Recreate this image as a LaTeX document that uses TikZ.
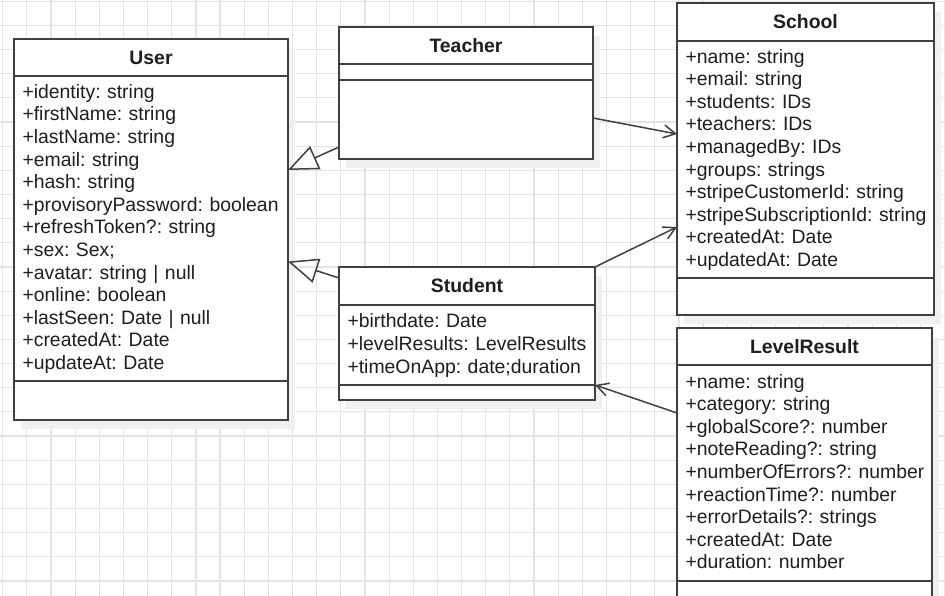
\documentclass[tikz,border=0pt]{standalone}
\usepackage{fontspec}
\setmainfont{Liberation Sans}
\usepackage{xcolor}
\usepackage{tikz}
\usetikzlibrary{arrows.meta,positioning,backgrounds}
\definecolor{umlline}{RGB}{64,64,64}
\definecolor{umltext}{RGB}{30,30,30}
\definecolor{gridgray}{RGB}{228,228,228}
\definecolor{shadowgray}{RGB}{240,240,240}
\frenchspacing
\newcommand{\attr}[1]{\mbox{\rule[-5.9pt]{0pt}{22.6pt}#1}}

\begin{document}
\begin{tikzpicture}[
  x=1pt,y=-1pt,
  every node/.style={font=\fontsize{19.4pt}{22.6pt}\selectfont,text=umltext},
  classhead/.style={draw=umlline,fill=white,line width=1.5pt,outer sep=0pt,
                    inner sep=0pt,anchor=north west,font=\fontsize{19.4pt}{22.6pt}\selectfont\bfseries},
  classpart/.style={draw=umlline,fill=white,line width=1.5pt,outer sep=0pt,
                    inner xsep=8.5pt,inner ysep=0pt,align=left},
  inherit/.style={-{Triangle[open,length=30pt,width=25pt]},line width=1.5pt,umlline},
  assoc/.style={-{Straight Barb[length=12pt,width=13pt]},line width=1.5pt,umlline}]
\useasboundingbox (0,0) rectangle (945,596);
%--- User ---
\node[classhead,minimum width=274pt,minimum height=37pt] (userhead) at (14,39) {User};
\node[classpart,text width=257pt,minimum height=305pt,below=0pt of userhead] (userattr)
  {\attr{+identity: string}\\\attr{+firstName: string}\\\attr{+lastName: string}\\
   \attr{+email: string}\\\attr{+hash: string}\\\attr{+provisoryPassword: boolean}\\
   \attr{+refreshToken?: string}\\\attr{+sex: Sex;}\\\attr{+avatar: string | null}\\
   \attr{+online: boolean}\\\attr{+lastSeen: Date | null}\\\attr{+createdAt: Date}\\
   \attr{+updateAt: Date}};
\node[classpart,text width=257pt,minimum height=39pt,below=0pt of userattr] (userops) {};
%--- Teacher ---
\node[classhead,minimum width=254pt,minimum height=37pt] (teacherhead) at (339,27) {Teacher};
\node[classpart,text width=237pt,minimum height=16pt,below=0pt of teacherhead] (teacherattr) {};
\node[classpart,text width=237pt,minimum height=79pt,below=0pt of teacherattr] (teacherops) {};
%--- Student ---
\node[classhead,minimum width=256pt,minimum height=38pt] (studenthead) at (339,267) {Student};
\node[classpart,text width=239pt,minimum height=80pt,below=0pt of studenthead] (studentattr)
  {\attr{+birthdate: Date}\\\attr{+levelResults: LevelResults}\\\attr{+timeOnApp: date;duration}};
\node[classpart,text width=239pt,minimum height=15pt,below=0pt of studentattr] (studentops) {};
%--- School ---
\node[classhead,minimum width=257pt,minimum height=38pt] (schoolhead) at (677,3) {School};
\node[classpart,text width=240pt,minimum height=237pt,below=0pt of schoolhead] (schoolattr)
  {\attr{+name: string}\\\attr{+email: string}\\\attr{+students: IDs}\\\attr{+teachers: IDs}\\
   \attr{+managedBy: IDs}\\\attr{+groups: strings}\\\attr{+stripeCustomerId: string}\\
   \attr{+stripeSubscriptionId: string}\\\attr{+createdAt: Date}\\\attr{+updatedAt: Date}};
\node[classpart,text width=240pt,minimum height=37pt,below=0pt of schoolattr] (schoolops) {};
%--- LevelResult ---
\node[classhead,minimum width=255pt,minimum height=37pt] (levelhead) at (677,328) {LevelResult};
\node[classpart,text width=238pt,minimum height=216pt,below=0pt of levelhead] (levelattr)
  {\attr{+name: string}\\\attr{+category: string}\\\attr{+globalScore?: number}\\
   \attr{+noteReading?: string}\\\attr{+numberOfErrors?: number}\\\attr{+reactionTime?: number}\\
   \attr{+errorDetails?: strings}\\\attr{+createdAt: Date}\\\attr{+duration: number}};
\node[classpart,text width=238pt,minimum height=40pt,below=0pt of levelattr] (levelops) {};
%--- Grid and shadows ---
\begin{scope}[on background layer]
  \fill[white] (0,0) rectangle (945,596);
  \draw[gridgray,line width=1.2pt,shift={(2.7,1.3)},step=24.15pt] (-10,-10) grid (950,600);
  \fill[shadowgray] ([shift={(7,9)}]userhead.north west) rectangle ([shift={(7,9)}]userops.south east);
  \fill[shadowgray] ([shift={(7,9)}]teacherhead.north west) rectangle ([shift={(7,9)}]teacherops.south east);
  \fill[shadowgray] ([shift={(7,9)}]studenthead.north west) rectangle ([shift={(7,9)}]studentops.south east);
  \fill[shadowgray] ([shift={(7,9)}]schoolhead.north west) rectangle ([shift={(7,9)}]schoolops.south east);
  \fill[shadowgray] ([shift={(7,9)}]levelhead.north west) rectangle ([shift={(7,9)}]levelops.south east);
\end{scope}
%--- Connectors ---
\draw[inherit] ([yshift=-27.5pt]teacherops.west) -- ([yshift=58.5pt]userattr.east);
\draw[inherit] ([yshift=8pt]studenthead.west) -- ([yshift=-33pt]userattr.east);
\draw[assoc] ([yshift=1.5pt]teacherops.east) -- ([yshift=25.5pt]schoolattr.west);
\draw[assoc] (studenthead.north east) -- ([yshift=-67.5pt]schoolattr.west);
\draw[assoc] ([yshift=60pt]levelattr.west) -- (studentattr.south east);
\end{tikzpicture}
\end{document}
